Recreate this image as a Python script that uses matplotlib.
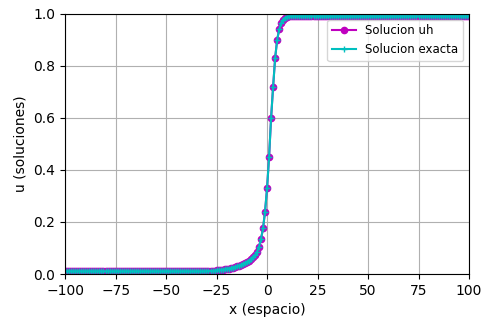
import numpy as np
import matplotlib
matplotlib.use("Agg")
import matplotlib.pyplot as plt

# malla en x (paso 1) y valores
x = np.arange(-100, 101)

tramo_izq = [0.01] * 70                     # x = -100 .. -31
tramo_medio = [0.011, 0.011, 0.012, 0.012, 0.013, 0.014, 0.015, 0.016, 0.017, 0.018,   # -30..-21
               0.02, 0.021, 0.023, 0.025, 0.027, 0.029, 0.032, 0.035, 0.038, 0.042,    # -20..-11
               0.046, 0.051, 0.057, 0.064, 0.072, 0.085, 0.105, 0.135, 0.175, 0.24,    # -10..-1
               0.33, 0.45, 0.6, 0.72, 0.83, 0.9, 0.94, 0.965, 0.978, 0.985, 0.988]     # 0..10
tramo_der = [0.99] * 90                     # x = 11 .. 100

u_exacta = tramo_izq + tramo_medio + tramo_der
u_h = list(u_exacta)

plt.figure(figsize=(4.86, 3.22), dpi=100)
plt.subplots_adjust(left=0.134, right=0.965, top=0.957, bottom=0.149)
plt.plot(x, u_h, 'm-o', markersize=4.5, linewidth=1.5, label='Solucion uh')
plt.plot(x, u_exacta, 'c-+', markersize=5, linewidth=1.5, label='Solucion exacta')
plt.xlim(-100, 100)
plt.ylim(0, 1)
plt.xticks(fontsize=10)
plt.yticks(fontsize=10)
plt.xlabel('x (espacio)', fontsize=10)
plt.ylabel('u (soluciones)', fontsize=10)
plt.grid(True)
plt.legend(loc='best', fontsize=8.5)
plt.savefig('out.png', dpi=100)
